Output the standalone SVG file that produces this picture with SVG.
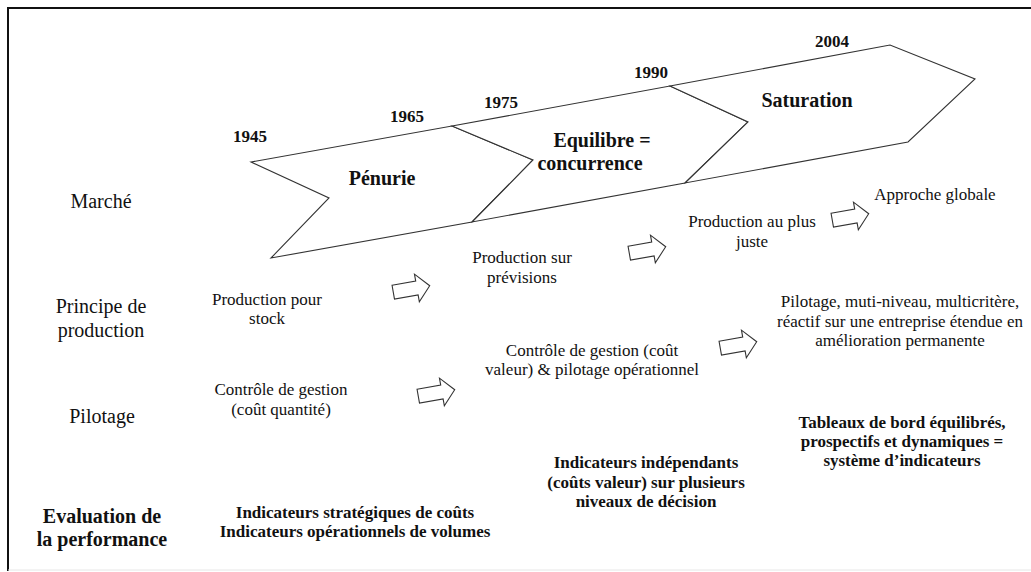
<svg xmlns="http://www.w3.org/2000/svg" width="1031" height="572" viewBox="0 0 1031 572">
<defs>
<style>
text{font-family:'Liberation Serif','Times New Roman','DejaVu Serif',serif;fill:#111;}
.lbl{font-size:20px;text-anchor:middle;}
.lblb{font-size:20px;font-weight:bold;text-anchor:middle;}
.yr{font-size:17px;font-weight:bold;text-anchor:middle;}
.ph{font-size:20px;font-weight:bold;text-anchor:middle;}
.t{font-size:17px;text-anchor:middle;}
.tb{font-size:17px;font-weight:bold;text-anchor:middle;}
.chev{fill:#fff;stroke:#333;stroke-width:1.1;stroke-linejoin:miter;}
.arr{fill:#fff;stroke:#333;stroke-width:1.1;}
</style>
<path id="blockArrow" d="M-18,-7 L6,-7 L6,-14 L19,0 L6,14 L6,7 L-18,7 Z"/>
</defs>
<rect x="0" y="0" width="1031" height="572" fill="#fff"/>
<g id="frame">
<line x1="8" y1="8" x2="1031" y2="8" stroke="#111" stroke-width="2"/>
<line x1="8" y1="7" x2="8" y2="571" stroke="#111" stroke-width="2"/>
<line x1="8" y1="570" x2="1031" y2="570" stroke="#e6e6e6" stroke-width="1"/>
</g>
<g id="row-labels" font-family="Liberation Serif, serif">
<text class="lbl" x="101" y="208">Marché</text>
<text class="lbl" x="101" y="313">Principe de</text>
<text class="lbl" x="101" y="337">production</text>
<text class="lbl" x="102" y="423">Pilotage</text>
<text class="lblb" x="102" y="523">Evaluation de</text>
<text class="lblb" x="102" y="546">la performance</text>
</g>
<g id="phase-penurie">
<polygon class="chev" points="251,162 452,126 533,160 472,222 271,258 329,198"/>
<text class="ph" x="382" y="185">Pénurie</text>
</g>
<g id="phase-equilibre">
<polygon class="chev" points="452,126 670,86 748,122 685,183 472,222 533,160"/>
<text class="ph" x="602" y="147">Equilibre =</text>
<text class="ph" x="590" y="170">concurrence</text>
</g>
<g id="phase-saturation">
<polygon class="chev" points="670,86 890,45 975,79 908,142 685,183 748,122"/>
<text class="ph" x="807" y="107">Saturation</text>
</g>
<g id="years">
<rect x="228" y="128" width="44" height="18" fill="#fff"/>
<text class="yr" x="250" y="142">1945</text>
<rect x="386" y="108" width="42" height="18" fill="#fff"/>
<text class="yr" x="407" y="122">1965</text>
<rect x="481" y="94" width="42" height="18" fill="#fff"/>
<text class="yr" x="501" y="108">1975</text>
<rect x="631" y="64" width="40" height="18" fill="#fff"/>
<text class="yr" x="651" y="78">1990</text>
<rect x="811" y="33" width="42" height="18" fill="#fff"/>
<text class="yr" x="832" y="47">2004</text>
</g>
<g id="production">
<text class="t" x="267" y="305">Production pour</text>
<text class="t" x="267" y="324">stock</text>
<text class="t" x="522" y="263">Production sur</text>
<text class="t" x="522" y="283">prévisions</text>
<text class="t" x="752" y="227">Production au plus</text>
<text class="t" x="752" y="247">juste</text>
<text class="t" x="935" y="200">Approche globale</text>
</g>
<g id="pilotage">
<text class="t" x="281" y="395">Contrôle de gestion</text>
<text class="t" x="281" y="415">(coût quantité)</text>
<text class="t" x="592" y="356">Contrôle de gestion (coût</text>
<text class="t" x="592" y="375">valeur) &amp; pilotage opérationnel</text>
<text class="t" x="900" y="307">Pilotage, muti-niveau, multicritère,</text>
<text class="t" x="900" y="327">réactif sur une entreprise étendue en</text>
<text class="t" x="900" y="346">amélioration permanente</text>
</g>
<g id="evaluation">
<text class="tb" x="355" y="518">Indicateurs stratégiques de coûts</text>
<text class="tb" x="355" y="537">Indicateurs opérationnels de volumes</text>
<text class="tb" x="646" y="468">Indicateurs indépendants</text>
<text class="tb" x="646" y="488">(coûts valeur) sur plusieurs</text>
<text class="tb" x="646" y="507">niveaux de décision</text>
<text class="tb" x="902" y="428">Tableaux de bord équilibrés,</text>
<text class="tb" x="902" y="447">prospectifs et dynamiques =</text>
<text class="tb" x="902" y="466">système d’indicateurs</text>
</g>
<g id="connectors">
<use href="#blockArrow" class="arr" transform="translate(411,289) rotate(-10)"/>
<use href="#blockArrow" class="arr" transform="translate(436,393) rotate(-10)"/>
<use href="#blockArrow" class="arr" transform="translate(647,250) rotate(-10)"/>
<use href="#blockArrow" class="arr" transform="translate(850,217) rotate(-10)"/>
<use href="#blockArrow" class="arr" transform="translate(738,345) rotate(-10)"/>
</g>
</svg>
